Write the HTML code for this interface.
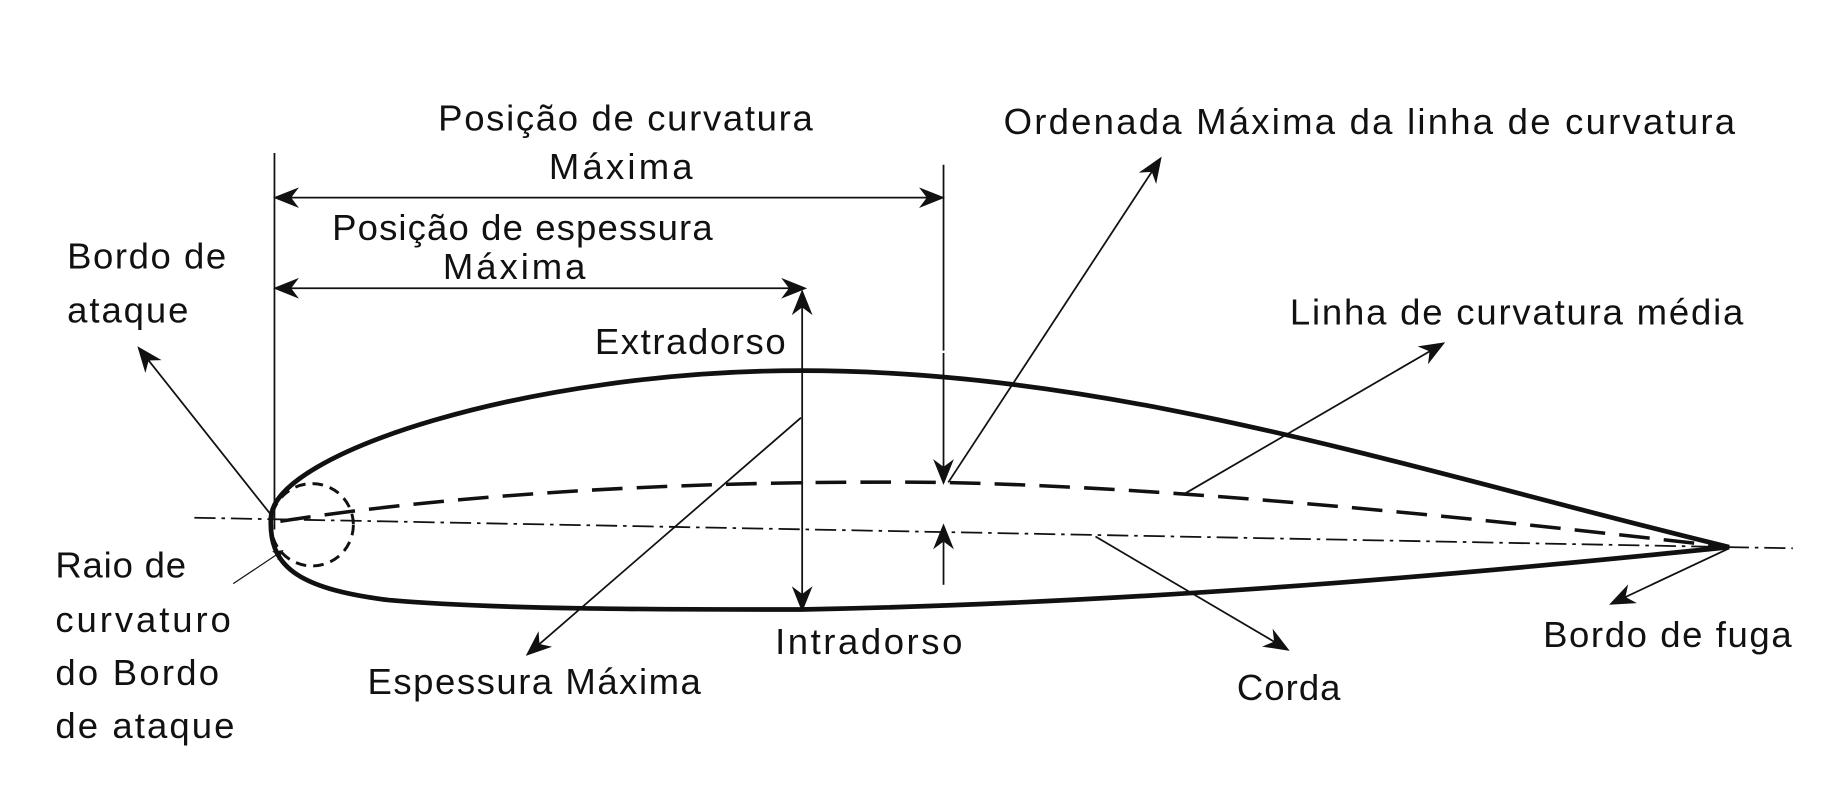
<!DOCTYPE html>
<html><head><meta charset="utf-8"><style>
html,body{margin:0;padding:0;background:#fff;width:1847px;height:806px;overflow:hidden}
svg{display:block}
text{font-family:"Liberation Sans",sans-serif;font-size:31px;fill:#111}
</style></head><body>
<svg width="1847" height="806" viewBox="0 0 1568 685" preserveAspectRatio="none">
<defs>
<marker id="a" viewBox="0 0 10 10" refX="9" refY="5" markerWidth="9" markerHeight="9" orient="auto-start-reverse" markerUnits="userSpaceOnUse"><path d="M0,0 L10,5 L0,10 L3,5 Z" fill="#111"/></marker>
<marker id="b" viewBox="0 0 10 10" refX="9" refY="5" markerWidth="22" markerHeight="22" orient="auto-start-reverse" markerUnits="userSpaceOnUse"><path d="M0,1 L10,5 L0,9 L3,5 Z" fill="#111"/></marker>
</defs>
<g stroke="#111" fill="none">
<path d="M1468,465 C1200,400 950,315 680,315 C450,315 232,385 230,440 C228,480 250,500 330,510 C420,518 560,518 680,518 C1000,512 1300,482 1468,465" stroke-width="4"/>
<line x1="165" y1="440" x2="1522" y2="466" stroke-width="1.5" stroke-dasharray="18,5,3,5"/>
<path d="M238,443 C400,418 600,408 800,410 C1000,414 1250,440 1468,465" stroke-width="3" stroke-dasharray="26,12"/>
<circle cx="265" cy="446" r="35" stroke-width="2.5" stroke-dasharray="9,6"/>
<line x1="233" y1="130" x2="233" y2="450" stroke-width="1.5"/>
<line x1="801" y1="140" x2="801" y2="298" stroke-width="1.5"/>
<line x1="801" y1="300" x2="801" y2="410" stroke-width="1.5" marker-end="url(#b)"/>
<line x1="801" y1="497" x2="801" y2="447" stroke-width="1.5" marker-end="url(#b)"/>
<line x1="234" y1="168" x2="800" y2="168" stroke-width="1.5" marker-start="url(#b)" marker-end="url(#b)"/>
<line x1="234" y1="245" x2="683" y2="245" stroke-width="1.5" marker-start="url(#b)" marker-end="url(#b)"/>
<line x1="681" y1="248" x2="681" y2="518" stroke-width="1.5" marker-start="url(#b)" marker-end="url(#b)"/>
<line x1="805" y1="410" x2="985" y2="135" stroke-width="1.5" marker-end="url(#b)"/>
<line x1="1005" y1="420" x2="1225" y2="292" stroke-width="1.5" marker-end="url(#b)"/>
<line x1="680" y1="355" x2="448" y2="556" stroke-width="1.5" marker-end="url(#b)"/>
<line x1="930" y1="456" x2="1093" y2="552" stroke-width="1.5" marker-end="url(#b)"/>
<line x1="1468" y1="466" x2="1368" y2="513" stroke-width="1.5" marker-end="url(#b)"/>
<line x1="232" y1="440" x2="118" y2="296" stroke-width="1.5" marker-end="url(#b)"/>
<line x1="198" y1="496" x2="240" y2="468" stroke-width="1" marker-end="url(#a)"/>
</g>
<text x="372" y="111" textLength="318">Posição de curvatura</text>
<text x="466" y="152" textLength="122">Máxima</text>
<text x="282" y="204" textLength="323">Posição de espessura</text>
<text x="376" y="237" textLength="121">Máxima</text>
<text x="57" y="228" textLength="135">Bordo de</text>
<text x="57" y="274" textLength="103">ataque</text>
<text x="505" y="301" textLength="162">Extradorso</text>
<text x="852" y="114" textLength="621">Ordenada Máxima da linha de curvatura</text>
<text x="1095" y="276" textLength="385">Linha de curvatura média</text>
<text x="47" y="491" textLength="111">Raio de</text>
<text x="47" y="537" textLength="149">curvaturo</text>
<text x="47" y="582" textLength="139">do Bordo</text>
<text x="47" y="627" textLength="152">de ataque</text>
<text x="658" y="556" textLength="159">Intradorso</text>
<text x="312" y="590" textLength="283">Espessura Máxima</text>
<text x="1050" y="595" textLength="88">Corda</text>
<text x="1310" y="550" textLength="211">Bordo de fuga</text>
</svg>
</body></html>
